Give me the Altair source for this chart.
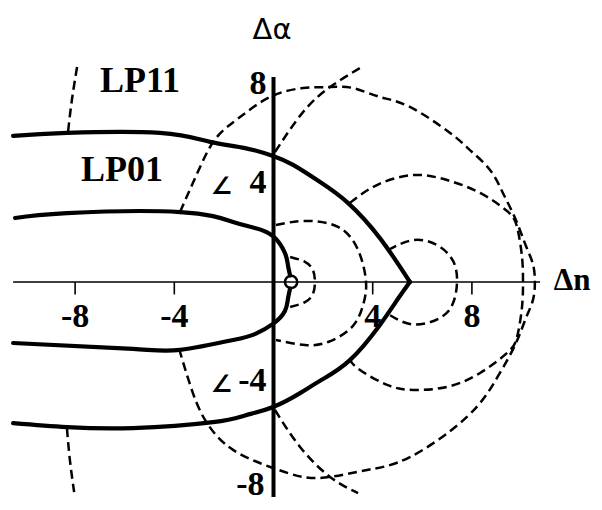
import altair as alt
import pandas as pd

# ---------------- data (units of Δn, Δα) ----------------
# thick solid boundaries
lp11_upper_x = [-10.50, -8.33, -4.58, -2.56, -1.15, -0.02, 0.79, 1.88, 3.00, 4.29, 5.50]
lp11_upper_y = [5.89, 6.01, 6.01, 5.65, 5.40, 5.08, 4.72, 4.03, 3.19, 1.77, 0.0]
lp11_lower_x = [5.50, 4.90, 4.29, 3.08, 1.88, 1.07, -0.02, -1.15, -2.44, -5.67, -8.33, -10.50]
lp11_lower_y = [0.0, -0.85, -1.73, -3.15, -3.98, -4.48, -5.04, -5.38, -5.65, -5.89, -5.85, -5.69]
lp01_upper_x = [-10.42, -8.33, -3.77, -1.63, -0.75, -0.02, 0.46, 0.58, 0.67]
lp01_upper_y = [2.58, 2.78, 2.82, 2.42, 2.18, 1.85, 1.17, 0.69, 0.26]
lp01_lower_x = [0.67, 0.58, 0.46, -0.02, -0.75, -1.63, -3.77, -5.67, -10.50]
lp01_lower_y = [-0.26, -0.69, -1.17, -1.69, -2.10, -2.34, -2.74, -2.70, -2.46]

# small solid circle near the origin
ring_x = [0.71]
ring_y = [0.0]

# dashed contours
d1_upper_x = [-7.92, -8.13, -8.29]
d1_upper_y = [8.67, 7.34, 6.01]
d1_lower_x = [-8.33, -8.21, -8.04]
d1_lower_y = [-5.89, -7.18, -8.47]
d2_x = [-3.77, -2.96, -2.28, -1.35, -0.14, 1.19, 2.28, 3.21, 4.29, 5.50, 7.12, 7.92,
        8.73, 9.25, 9.74, 10.18, 10.46, 10.54, 10.46, 10.18, 9.74, 9.01, 7.80, 5.50,
        3.77, 2.28, 1.19, -0.02, -1.63, -2.68, -3.25, -3.77]
d2_y = [2.82, 4.64, 5.85, 6.65, 7.46, 7.82, 7.86, 7.82, 7.46, 7.06, 6.01, 5.32,
        4.52, 3.59, 2.58, 1.45, 0.73, 0.0, -0.73, -1.45, -2.54, -3.87, -5.44, -7.06,
        -7.58, -7.86, -7.86, -7.50, -6.77, -5.69, -4.48, -2.82]
d3_upper_x = [0.06, 1.19, 2.28, 3.49]
d3_upper_y = [5.24, 6.85, 7.86, 8.63]
d3_lower_x = [0.06, 1.07, 2.28, 3.41]
d3_lower_y = [-5.16, -6.65, -7.86, -8.51]
d4_x = [3.08, 4.17, 5.63, 7.00, 8.33, 9.42, 9.82, 10.02, 10.06, 10.02, 9.82, 9.42,
        8.33, 7.00, 5.63, 4.58, 3.49, 3.08]
d4_y = [3.19, 3.91, 4.31, 4.11, 3.59, 2.86, 2.22, 1.01, 0.0, -1.01, -2.22, -2.86,
        -3.67, -4.23, -4.35, -4.15, -3.55, -3.15]
d5_x = [4.62, 5.63, 6.59, 7.24, 7.40, 7.24, 6.71, 5.63, 4.62]
d5_y = [1.29, 1.69, 1.49, 0.85, 0.0, -0.85, -1.45, -1.71, -1.29]
d6_x = [0.67, 1.27, 1.59, 1.67, 1.59, 1.27, 0.67]
d6_y = [1.01, 0.81, 0.48, 0.0, -0.48, -0.81, -1.01]
d7_x = [0.10, 1.27, 2.60, 3.41, 3.73, 3.61, 3.17, 2.20, 1.27, 0.10]
d7_y = [2.30, 2.46, 2.22, 1.29, 0.0, -0.93, -1.81, -2.42, -2.54, -2.34]

# axes and labels
h_axis_x = [-10.50, 10.75]
v_axis_y = [8.27, -8.67]
x_ticks = [-8, -4, 4, 8]
x_tick_labels = ["-8", "-4", "4", "8"]
y_ticks_mid = [8, 4, -4]
y_tick_labels_mid = ["8", "4", "-4"]
y_ticks_low = [-8]
y_tick_labels_low = ["-8"]
angle_marks = [4, -4]
mode_labels = ["LP11", "LP01"]
mode_label_x = [-5.38, -6.11]
mode_label_y = [8.10, 4.52]

X_DOMAIN = [-10.706, 12.923]
Y_DOMAIN = [-8.871, 11.048]


def curve(name, xs, ys):
    return pd.DataFrame({"curve": name, "x": xs, "y": ys, "i": list(range(len(xs)))})


solid = pd.concat([
    curve("lp11u", lp11_upper_x, lp11_upper_y),
    curve("lp11l", lp11_lower_x, lp11_lower_y),
    curve("lp01u", lp01_upper_x, lp01_upper_y),
    curve("lp01l", lp01_lower_x, lp01_lower_y),
])
dashed = pd.concat([
    curve("d1u", d1_upper_x, d1_upper_y),
    curve("d1l", d1_lower_x, d1_lower_y),
    curve("d2", d2_x, d2_y),
    curve("d3u", d3_upper_x, d3_upper_y),
    curve("d3l", d3_lower_x, d3_lower_y),
    curve("d4", d4_x, d4_y),
    curve("d5", d5_x, d5_y),
    curve("d6", d6_x, d6_y),
    curve("d7", d7_x, d7_y),
])

xs = alt.Scale(domain=X_DOMAIN, nice=False, zero=False)
ys = alt.Scale(domain=Y_DOMAIN, nice=False, zero=False)
X = alt.X("x:Q", scale=xs, axis=None)
Y = alt.Y("y:Q", scale=ys, axis=None)

solid_layer = alt.Chart(solid).mark_line(
    color="black", strokeWidth=4.2, interpolate="natural", strokeCap="round"
).encode(x=X, y=Y, detail="curve:N", order="i:Q")

dashed_layer = alt.Chart(dashed).mark_line(
    color="black", strokeWidth=2.5, strokeDash=[9, 5], interpolate="natural"
).encode(x=X, y=Y, detail="curve:N", order="i:Q")

ring_layer = alt.Chart(pd.DataFrame({"x": ring_x, "y": ring_y})).mark_point(
    shape="circle", filled=False, size=150, strokeWidth=2.5, color="black", opacity=1
).encode(x=X, y=Y)

h_axis = alt.Chart(pd.DataFrame({"x": [h_axis_x[0]], "x2": [h_axis_x[1]], "y": [0.0]})).mark_rule(
    color="black", strokeWidth=1.6
).encode(x=X, x2="x2:Q", y=Y)

v_axis = alt.Chart(pd.DataFrame({"x": [0.0], "y": [v_axis_y[0]], "y2": [v_axis_y[1]]})).mark_rule(
    color="black", strokeWidth=4
).encode(x=X, y=Y, y2="y2:Q")

ticks = alt.Chart(pd.DataFrame({"x": x_ticks, "y": [0.0] * 4, "y2": [-0.5] * 4})).mark_rule(
    color="black", strokeWidth=1.6
).encode(x=X, y=Y, y2="y2:Q")

num_font = dict(font="Liberation Serif", fontWeight="bold", fontSize=34, color="black")

x_labels = alt.Chart(pd.DataFrame({"x": x_ticks, "y": [0.0] * 4, "t": x_tick_labels})).mark_text(
    baseline="middle", align="center", dy=35, **num_font
).encode(x=X, y=Y, text="t:N")

y_labels = alt.Chart(pd.DataFrame({"x": [0.0] * 3, "y": y_ticks_mid, "t": y_tick_labels_mid})).mark_text(
    baseline="middle", align="right", dx=-7, **num_font
).encode(x=X, y=Y, text="t:N")

y_labels_low = alt.Chart(pd.DataFrame({"x": [0.0], "y": y_ticks_low, "t": y_tick_labels_low})).mark_text(
    baseline="middle", align="right", dx=-9, dy=5, **num_font
).encode(x=X, y=Y, text="t:N")

angles = alt.Chart(pd.DataFrame({"x": [0.0] * 2, "y": angle_marks, "t": ["∠", "∠"]})).mark_text(
    baseline="middle", align="center", dx=-52, dy=4, font="DejaVu Sans", fontWeight="bold",
    fontSize=24, color="black"
).encode(x=X, y=Y, text="t:N")

modes = alt.Chart(pd.DataFrame({"x": mode_label_x, "y": mode_label_y, "t": mode_labels})).mark_text(
    baseline="middle", align="center", font="Liberation Serif", fontWeight="bold", fontSize=36, color="black"
).encode(x=X, y=Y, text="t:N")

alpha_title = alt.Chart(pd.DataFrame({"x": [-0.06], "y": [10.16], "t": ["Δα"]})).mark_text(
    baseline="middle", align="center", font="DejaVu Sans", fontSize=29, color="black"
).encode(x=X, y=Y, text="t:N")

n_title = alt.Chart(pd.DataFrame({"x": [12.24], "y": [0.04], "t": ["Δn"]})).mark_text(
    baseline="middle", align="center", dx=-5, font="Liberation Serif", fontWeight="bold", fontSize=31, color="black"
).encode(x=X, y=Y, text="t:N")

chart = alt.layer(
    dashed_layer, h_axis, ticks, solid_layer, v_axis, ring_layer,
    x_labels, y_labels, y_labels_low, angles, modes, alpha_title, n_title
).properties(
    width=586, height=494, padding=0,
    autosize=alt.AutoSizeParams(type="none"), background="white"
).configure_view(strokeWidth=0)

chart.save("out.html", embed_options={"renderer": "svg", "actions": False})
